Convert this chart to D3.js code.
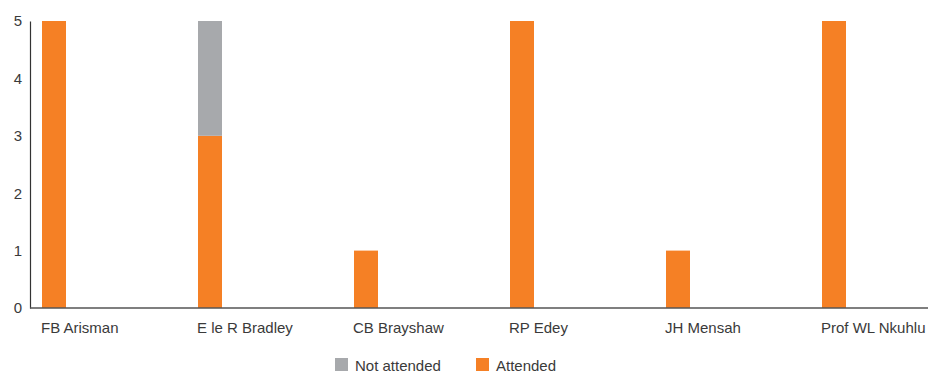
<!DOCTYPE html>
<html>
<head>
<meta charset="utf-8">
<script src="https://cdn.jsdelivr.net/npm/d3@7"></script>
<style>
  html, body { margin: 0; padding: 0; background: #fff; }
  svg text { font-family: "Liberation Sans", Arial, sans-serif; fill: #3a3a3a; }
</style>
</head>
<body>
<svg id="chart" width="940" height="374"></svg>
<script>
// Board meeting attendance per director
const directors = ["FB Arisman", "E le R Bradley", "CB Brayshaw", "RP Edey", "JH Mensah", "Prof WL Nkuhlu"];
const attended = [5, 3, 1, 5, 1, 5];
const notAttended = [0, 2, 0, 0, 0, 0];
const yTicks = [0, 1, 2, 3, 4, 5];
const seriesNames = ["Not attended", "Attended"];
const seriesColors = ["#a7a9ac", "#f58025"];

const svg = d3.select("#chart");
const left = 30, baseY = 308, topY = 21, axisEnd = 928;

const x = d3.scaleBand().domain(directors).range([left, left + 156 * directors.length]).padding(0);
const y = d3.scaleLinear().domain([0, 5]).range([baseY, topY]);
const barOffset = 12, barWidth = 24;

const rows = directors.map((d, i) => ({ name: d, Attended: attended[i], "Not attended": notAttended[i] }));
const stacked = d3.stack().keys(["Attended", "Not attended"])(rows);
const color = d3.scaleOrdinal().domain(seriesNames).range(seriesColors);

// stacked bars
svg.append("g").selectAll("g").data(stacked).join("g")
  .attr("fill", s => color(s.key))
  .selectAll("rect").data(s => s).join("rect")
  .attr("x", d => x(d.data.name) + barOffset)
  .attr("width", barWidth)
  .attr("y", d => y(d[1]))
  .attr("height", d => y(d[0]) - y(d[1]));

// y axis
const yAxis = svg.append("g").attr("transform", `translate(${left},0)`)
  .call(d3.axisLeft(y).tickValues(yTicks).tickSize(0).tickPadding(8).tickFormat(d3.format("d")));
yAxis.select(".domain").attr("stroke", "#333").attr("stroke-width", 1.2);
yAxis.selectAll("text").attr("font-size", 15).attr("fill", "#3a3a3a");

// x baseline
svg.append("line")
  .attr("x1", left).attr("x2", axisEnd)
  .attr("y1", baseY).attr("y2", baseY)
  .attr("stroke", "#555").attr("stroke-width", 1.5);

// category labels, aligned with bar start
svg.append("g").selectAll("text").data(directors).join("text")
  .attr("x", d => x(d) + barOffset - 1)
  .attr("y", 333)
  .attr("font-size", 15)
  .text(d => d);

// legend
const legendX = [335, 476];
const legend = svg.append("g").selectAll("g").data(seriesNames).join("g")
  .attr("transform", (d, i) => `translate(${legendX[i]},358)`);
legend.append("rect").attr("width", 13).attr("height", 13).attr("fill", d => color(d));
legend.append("text").attr("x", 20).attr("y", 13).attr("font-size", 15).text(d => d);
</script>
</body>
</html>
